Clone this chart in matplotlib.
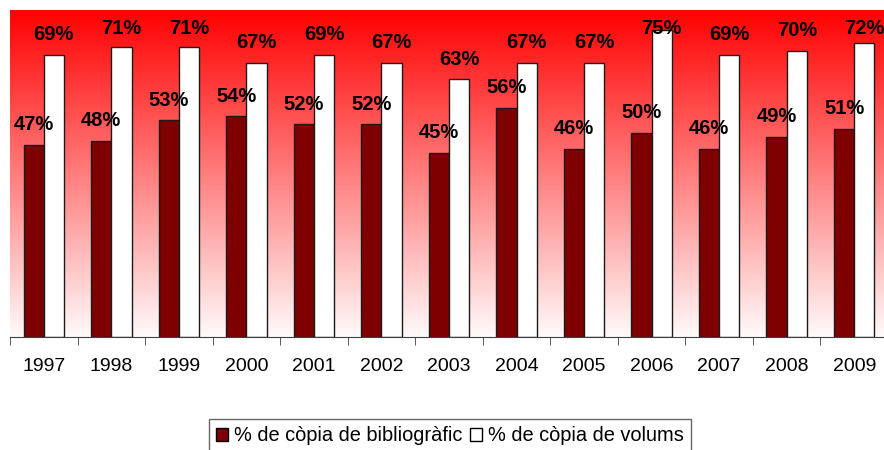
import matplotlib
matplotlib.use("Agg")
import matplotlib.pyplot as plt
import numpy as np
from matplotlib.colors import LinearSegmentedColormap
from matplotlib.patches import Patch

years = ["1997", "1998", "1999", "2000", "2001", "2002", "2003", "2004", "2005", "2006", "2007", "2008", "2009"]
biblio = [47, 48, 53, 54, 52, 52, 45, 56, 46, 50, 46, 49, 51]
volums = [69, 71, 71, 67, 69, 67, 63, 67, 67, 75, 69, 70, 72]
series_names = ["% de còpia de bibliogràfic", "% de còpia de volums"]

plt.rcParams['font.family'] = ['Liberation Sans', 'DejaVu Sans']

fig = plt.figure(figsize=(8.84, 4.5), dpi=100)
ax = fig.add_axes([10/884, 113/450, 878/884, 327/450])

# gradient background
cmap = LinearSegmentedColormap.from_list("rw", ["#fffafa", "#ff0000"], N=256)
grad = np.linspace(0, 1, 256).reshape(-1, 1)
ax.imshow(grad, aspect='auto', cmap=cmap, origin='lower',
          extent=[0, 1, 0, 1], transform=ax.transAxes, zorder=0)

x = np.arange(len(years))
w = 0.3
ax.bar(x - w/2, biblio, w, color='#7f0000', edgecolor='#1a1a1a', linewidth=1.0, zorder=2)
ax.bar(x + w/2, volums, w, color='white', edgecolor='#1a1a1a', linewidth=1.0, zorder=2)

def lab_y(v):
    return min(v + 3.6, 74.2)

for xi, v in zip(x, biblio):
    ax.text(xi - w/2, lab_y(v), f"{v}%", ha='center', va='baseline', fontsize=14.5, fontweight='bold', zorder=3)
for xi, v in zip(x, volums):
    ax.text(xi + w/2, lab_y(v), f"{v}%", ha='center', va='baseline', fontsize=14.5, fontweight='bold', zorder=3)

ax.set_xlim(-0.5, len(years) - 0.5)
ax.set_ylim(0, 80)
ax.set_yticks([])
ax.set_xticks(x)
ax.set_xticklabels(years, fontsize=14)
ax.tick_params(axis='x', length=0, pad=15)
ax.set_xticks(np.arange(len(years) + 1) - 0.5, minor=True)
ax.tick_params(axis='x', which='minor', length=6, direction='out', color='#404040')
for s in ['left', 'right', 'top']:
    ax.spines[s].set_visible(False)
ax.spines['bottom'].set_color('#404040')

handles = [Patch(facecolor='#7f0000', edgecolor='black'), Patch(facecolor='white', edgecolor='black')]
fig.legend(handles, series_names, loc='lower center', bbox_to_anchor=(450/884, -0.005), ncol=2,
           fontsize=14.4, frameon=True, fancybox=False, edgecolor='#404040',
           handlelength=0.6, handleheight=0.6, handletextpad=0.3, columnspacing=0.4,
           borderpad=0.35, borderaxespad=0.0)

fig.savefig("out.png", dpi=100)
